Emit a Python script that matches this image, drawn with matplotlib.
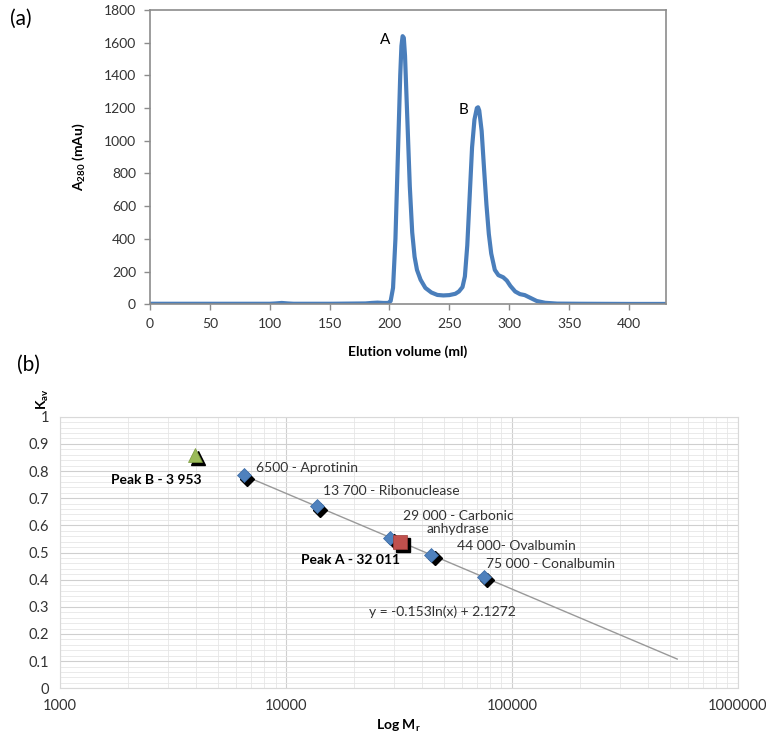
import numpy as np
import matplotlib
matplotlib.use("Agg")
import matplotlib.pyplot as plt
from matplotlib import transforms
from matplotlib.ticker import LogLocator, MultipleLocator, NullFormatter

plt.rcParams['font.family'] = ['Lato', 'DejaVu Sans']
plt.rcParams['mathtext.fontset'] = 'custom'
plt.rcParams['mathtext.rm'] = 'Lato'
plt.rcParams['mathtext.bf'] = 'Lato:bold'

# (a) elution profile
volume = [0, 50, 100, 105, 110, 115, 120, 150, 180, 185, 190, 195, 199, 201, 203,
          205, 207, 209, 210, 211, 212, 213, 215, 217, 219, 221, 223, 226, 230,
          235, 240, 245, 250, 255, 258, 261, 263, 265, 267, 269, 271, 273, 274,
          275, 277, 279, 281, 283, 285, 288, 291, 295, 298, 301, 305, 309, 313,
          318, 323, 330, 340, 360, 400, 431]
a280 = [3, 3, 3, 5, 8, 5, 3, 3, 5, 8, 10, 8, 8, 20, 100,
        400, 900, 1400, 1580, 1640, 1630, 1520, 1120, 720, 440, 290, 210, 150, 100,
        72, 57, 54, 56, 64, 78, 105, 170, 360, 660, 960, 1130, 1200, 1205,
        1185, 1060, 830, 610, 430, 310, 210, 178, 165, 145, 112, 78, 62, 56,
        38, 20, 9, 4, 3, 2, 2]

# (b) calibration standards
std_mass = [6500, 13700, 29000, 44000, 75000]
std_kav = [0.784, 0.670, 0.555, 0.491, 0.410]
std_names = ["6500 - Aprotinin", "13 700 - Ribonuclease", "29 000 - Carbonic\nanhydrase",
             "44 000- Ovalbumin", "75 000 - Conalbumin"]
peakA_mass, peakA_kav = 32011, 0.540
peakB_mass, peakB_kav = 3953, 0.860
fit_slope, fit_icpt = -0.153, 2.1272
fit_range = [6500, 540000]

fig = plt.figure(figsize=(7.66, 7.36), dpi=100)

# ---------- panel (a) ----------
ax1 = fig.add_axes([0.1958, 0.5866, 0.6737, 0.3998])
ax1.plot(volume, a280, color='#4A7EBB', lw=3, solid_joinstyle='round')
ax1.set_xlim(0, 431)
ax1.set_ylim(0, 1800)
ax1.xaxis.set_major_locator(MultipleLocator(50))
ax1.yaxis.set_major_locator(MultipleLocator(200))
for s in ax1.spines.values():
    s.set_color('#8c8c8c')
    s.set_linewidth(1.2)
ax1.tick_params(direction='out', length=4, width=1, color='#8c8c8c',
                labelsize=10, labelcolor='#333333', pad=6)
ax1.set_xlabel("Elution volume (ml)", fontsize=10, fontweight='bold', labelpad=11)
ax1.set_ylabel("A$_\\mathregular{280}$ (mAu)", fontsize=10, fontweight='bold', labelpad=12)
ax1.text(196, 1616, "A", fontsize=11, ha='center', va='center')
ax1.text(262, 1188, "B", fontsize=11, ha='center', va='center')
fig.text(0.013, 0.975, "(a)", fontsize=15, va='center')

# ---------- panel (b) ----------
ax2 = fig.add_axes([0.0783, 0.0648, 0.8847, 0.369])
ax2.set_xscale('log')
ax2.set_xlim(1000, 1000000)
ax2.set_ylim(0, 1)
ax2.xaxis.set_minor_locator(LogLocator(base=10, subs=np.arange(2, 10)))
ax2.xaxis.set_minor_formatter(NullFormatter())
ax2.set_xticks([1000, 10000, 100000, 1000000])
ax2.set_xticklabels(["1000", "10000", "100000", "1000000"])
ax2.yaxis.set_minor_locator(MultipleLocator(0.02))
ax2.set_yticks(np.arange(0, 1.01, 0.1))
ax2.set_yticklabels(["0"] + ["%.1f" % v for v in np.arange(0.1, 0.95, 0.1)] + ["1"])
ax2.grid(which='major', color='#cfcfcf', lw=0.8)
ax2.grid(which='minor', color='#e6e6e6', lw=0.6)
ax2.set_axisbelow(True)
for s in ax2.spines.values():
    s.set_color('#d9d9d9')
ax2.tick_params(which='both', length=0, labelsize=10.5, labelcolor='#333333', pad=8)

xs = np.geomspace(fit_range[0], fit_range[1], 50)
ax2.plot(xs, fit_slope * np.log(xs) + fit_icpt, color='#999999', lw=1)

shadow = transforms.offset_copy(ax2.transData, fig=fig, x=2.5, y=-2.5, units='points')
ax2.plot(std_mass, std_kav, 'D', ms=7.5, color='black', transform=shadow, zorder=3)
ax2.plot(std_mass, std_kav, 'D', ms=7.5, color='#4F81BD', mec='#3A6AA5', mew=0.5, zorder=4)
ax2.plot([peakA_mass], [peakA_kav], 's', ms=10, color='black', transform=shadow, zorder=5)
ax2.plot([peakA_mass], [peakA_kav], 's', ms=10, color='#C0504D', mec='#9E3B38', mew=0.5, zorder=6)
ax2.plot([peakB_mass], [peakB_kav], '^', ms=10, color='black', transform=shadow, zorder=5)
ax2.plot([peakB_mass], [peakB_kav], '^', ms=10, color='#9BBB59', mec='#7A9A3C', mew=0.5, zorder=6)

label_off = [(9, 5.5), (4.5, 11), (49, 11), (18.5, 6.5), (1.5, 9.5)]
for m, k, name, off in zip(std_mass, std_kav, std_names, label_off):
    ha = 'center' if '\n' in name else 'left'
    ax2.annotate(name, (m, k), xytext=off, textcoords='offset points',
                 fontsize=10, color='#333333', ha=ha, va='center',
                 multialignment='center', linespacing=1.15)
ax2.annotate("Peak A - 32 011", (peakA_mass, peakA_kav), xytext=(0, -13),
             textcoords='offset points', fontsize=10, fontweight='bold', ha='right', va='center')
ax2.annotate("Peak B - 3 953", (peakB_mass, peakB_kav), xytext=(5, -18),
             textcoords='offset points', fontsize=10, fontweight='bold', ha='right', va='center')
ax2.text(23350, 0.281, "y = -0.153ln(x) + 2.1272", fontsize=10, color='#333333', va='center')

ax2.set_xlabel("Log M$_\\mathregular{r}$", fontsize=10, fontweight='bold', labelpad=3)
fig.text(0.056, 0.457, "K$_\\mathregular{av}$", fontsize=10, fontweight='bold',
         rotation=90, ha='center', va='center')
fig.text(0.022, 0.504, "(b)", fontsize=15, va='center')

fig.savefig("out.png", dpi=100)
